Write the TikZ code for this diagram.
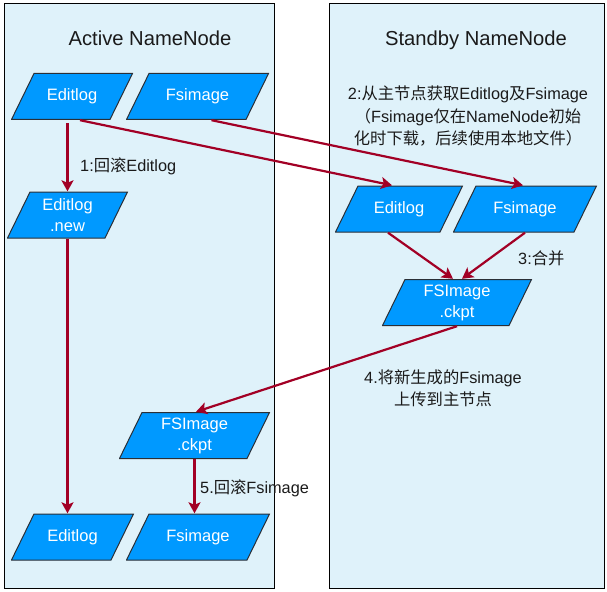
\documentclass[tikz,border=0pt]{standalone}
\usepackage{fontspec}
\setmainfont{Liberation Sans}
\newfontfamily\cjkfont{Noto Sans CJK SC}
\usetikzlibrary{arrows.meta,calc}
\definecolor{panelfill}{HTML}{DFF2FA}
\definecolor{nodeblue}{HTML}{0099FF}
\definecolor{nodeline}{HTML}{2A2F36}
\definecolor{arrowred}{HTML}{A20025}
\definecolor{labeltext}{HTML}{1A1A1A}
\newcommand\zh[1]{{\cjkfont #1}}
\begin{document}
\begin{tikzpicture}[x=1pt,y=-1pt,
  panel/.style={draw=black, line width=1pt, fill=panelfill},
  title/.style={font=\fontsize{20.2}{24}\selectfont, text=labeltext, inner sep=0pt, anchor=base},
  lbl/.style={font=\fontsize{16.3}{22}\selectfont, text=labeltext, inner sep=0pt, align=center},
  pg/.style={minimum height=47pt, minimum width=#1, inner sep=0pt, align=center,
    text=white, font=\fontsize{16.5}{21}\selectfont,
    path picture={\path[fill=nodeblue, draw=nodeline, line width=1pt]
      ([shift={(0.5pt,0.5pt)}]path picture bounding box.south west) --
      ([shift={(-23pt,0.5pt)}]path picture bounding box.south east) --
      ([shift={(-0.5pt,-0.5pt)}]path picture bounding box.north east) --
      ([shift={(23pt,-0.5pt)}]path picture bounding box.north west) -- cycle;}},
  arr/.style={draw=arrowred, line width=2.2pt, -{Stealth[length=11pt,width=12pt,inset=2.5pt]}}
]
\useasboundingbox (0,0) rectangle (607,591);
% panels
\path[panel] (4,4) rectangle (274,588);
\path[panel] (329,4) rectangle (604,588);
\node[title] (tA) at (150,46) {Active NameNode};
\node[title] (tS) at (476,46) {Standby NameNode};
% nodes
\node[pg=122pt] (ae) at (72,96.5) {Editlog};
\node[pg=143pt] (af) at (197.5,96.5) {Fsimage};
\node[pg=121pt] (an) at (67.5,215) {Editlog\\.new};
\node[pg=128pt] (se) at (399,209) {Editlog};
\node[pg=144pt] (sf) at (525,209) {Fsimage};
\node[pg=150pt] (sc) at (457,302.5) {FSImage\\.ckpt};
\node[pg=151pt] (ac) at (194.5,435.5) {FSImage\\.ckpt};
\node[pg=123pt] (be) at (72.5,537) {Editlog};
\node[pg=144pt] (bf) at (198,537) {Fsimage};
% connectors
\draw[arr, shorten <=3pt] (ae.south -| an.north) -- (an.north);
\draw[arr] (an.south) -- (an.south |- be.north);
\draw[arr] ([xshift=8pt]ae.south) -- ([xshift=-7pt]se.north);
\draw[arr] ([xshift=14pt]af.south) -- ([xshift=-2pt]sf.north);
\draw[arr] ([xshift=-11pt]se.south) -- ([xshift=-4pt]sc.north);
\draw[arr] (sf.south) -- ([xshift=5pt]sc.north);
\draw[arr] (sc.south) -- ([xshift=1.5pt]ac.north);
\draw[arr] (ac.south) -- (ac.south |- bf.north);
% labels
\node[lbl, anchor=base west] (l1) at (80,171.5) {1:\zh{回滚}Editlog};
\node[lbl, anchor=base] (l2) at (468,144) {2:\zh{从主节点获取}Editlog\zh{及}Fsimage\\\zh{（}Fsimage\zh{仅在}NameNode\zh{初始}\\\zh{化时下载，后续使用本地文件）}};
\node[lbl, anchor=base west] (l3) at (518,264) {3:\zh{合并}};
\node[lbl, anchor=base] (l4) at (443,405) {4.\zh{将新生成的}Fsimage\\\zh{上传到主节点}};
\node[lbl, anchor=base west] (l5) at (200,493) {5.\zh{回滚}Fsimage};
\end{tikzpicture}
\end{document}
